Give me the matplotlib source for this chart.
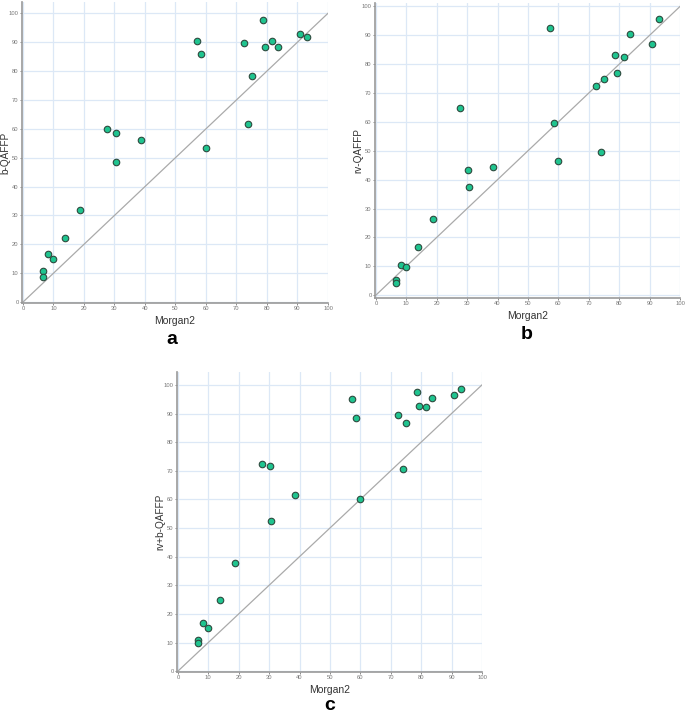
import matplotlib
matplotlib.use('Agg')
import matplotlib.pyplot as plt

plt.rcParams['font.family'] = ['Liberation Sans', 'DejaVu Sans']

# Morgan2 similarity (x) shared by all three panels
morgan2 = [6.5, 6.5, 8.3, 10.0, 13.8, 18.8, 27.5, 30.4, 30.6, 38.6, 57.1,
           58.5, 60.0, 72.4, 73.9, 75.0, 78.6, 79.4, 81.7, 83.7, 90.8, 93.2]

b_qaffp = [10.8, 8.6, 16.5, 14.9, 22.1, 32.0, 59.9, 58.6, 48.6, 56.3, 90.5,
           85.8, 53.3, 89.7, 61.7, 78.3, 97.7, 88.2, 90.4, 88.4, 92.7, 91.9]

rv_qaffp = [5.4, 4.3, 10.3, 9.9, 16.6, 26.3, 64.8, 43.4, 37.5, 44.3, 92.6,
            59.7, 46.5, 72.3, 49.5, 74.9, 83.2, 77.0, 82.6, 90.5, 87.1, 95.7]

rvb_qaffp = [11.0, 9.8, 16.7, 15.1, 25.0, 37.7, 72.5, 71.6, 52.3, 61.4, 95.2,
             88.6, 60.0, 89.6, 70.7, 86.6, 97.5, 92.6, 92.4, 95.3, 96.3, 98.6]

W, H = 685, 716
fig = plt.figure(figsize=(W / 100, H / 100), dpi=100)

# (left, right, bottom, top) in pixels, y-limits, y values, label, panel letter
panels = [
    ((22, 328, 303, 2), (-0.3, 103.9), b_qaffp, 'b-QAFFP', 'a', (172, 340)),
    ((375, 680, 298, 3), (-1.0, 101.2), rv_qaffp, 'rv-QAFFP', 'b', (527, 335)),
    ((177, 482, 672, 372), (-0.3, 104.5), rvb_qaffp, 'rv+b-QAFFP', 'c', (330, 706)),
]

for (l, r, b, t), ylim, yvals, ylab, letter, (lx, ly) in panels:
    ax = fig.add_axes([l / W, 1 - b / H, (r - l) / W, (b - t) / H])
    ax.set_xlim(-0.3, 100)
    ax.set_ylim(*ylim)
    ax.set_xticks(range(0, 101, 10))
    ax.set_yticks(range(0, 101, 10))
    ax.grid(True, color='#dce8f6', linewidth=0.9)
    ax.set_axisbelow(True)
    for s in ['top', 'right']:
        ax.spines[s].set_visible(False)
    for s in ['left', 'bottom']:
        ax.spines[s].set_color('#999999')
        ax.spines[s].set_linewidth(1.2)
    ax.tick_params(labelsize=4.2, colors='#777777', length=1.5, width=0.6, pad=1)
    ax.plot([0, 100], [0, 100], color='#aaaaaa', linewidth=0.9, zorder=2)
    ax.scatter(morgan2, yvals, s=22, color='#1fc48f', edgecolors='#2d4a3e',
               linewidths=0.8, zorder=3)
    ax.set_xlabel('Morgan2', fontsize=7.5, color='#333333', labelpad=3)
    ax.set_ylabel(ylab, fontsize=7.2, color='#333333', va='center')
    ax.yaxis.set_label_coords(-17 / (r - l), 0.5)
    fig.text(lx / W, 1 - ly / H, letter, fontsize=14, fontweight='bold',
             ha='center', va='center')

fig.savefig('out.png', dpi=100)
